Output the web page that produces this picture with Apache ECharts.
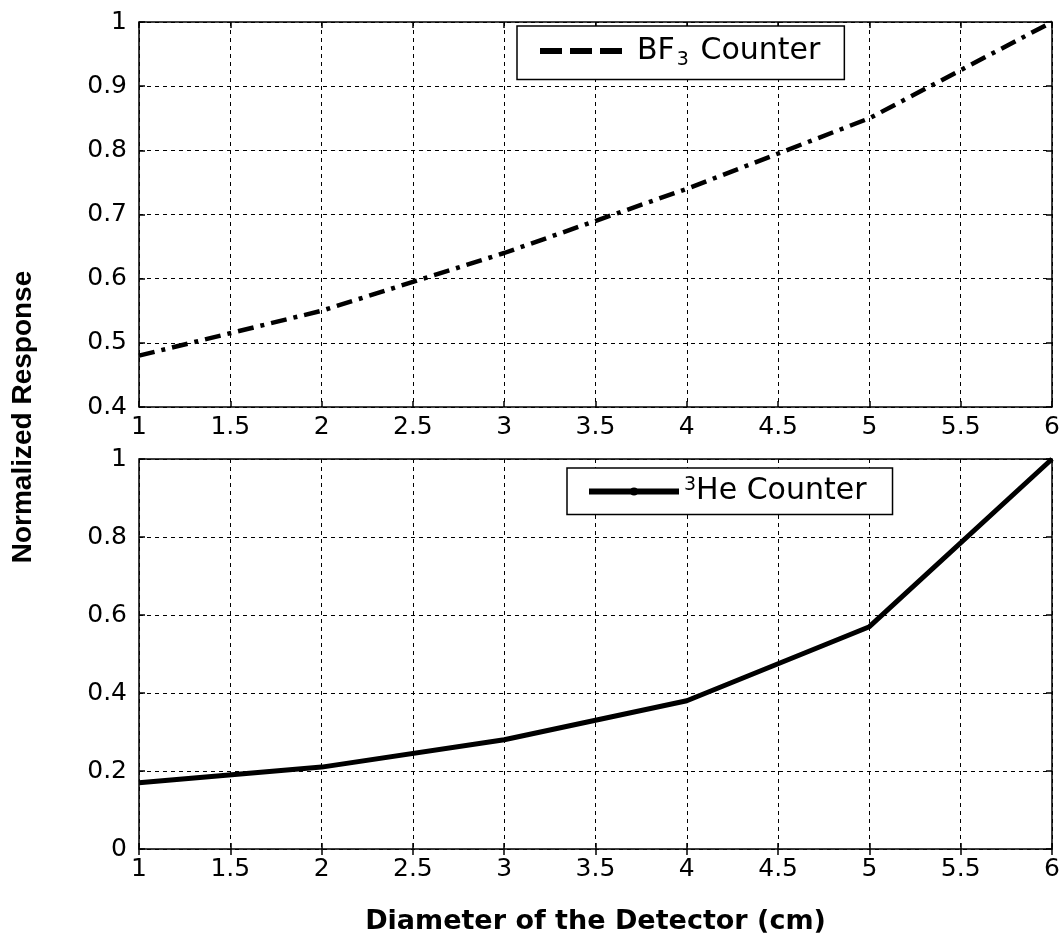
<!DOCTYPE html>
<html>
<head>
<meta charset="utf-8">
<script src="https://cdn.jsdelivr.net/npm/echarts@6/dist/echarts.min.js"></script>
<style>
  html, body { margin: 0; padding: 0; background: #fff; }
  #chart { width: 1063px; height: 936px; }
</style>
</head>
<body>
<div id="chart"></div>
<script>
// diameter (cm)
const diameters = [1, 2, 3, 4, 5, 6];
// normalized responses
const bf3Response = [0.48, 0.55, 0.64, 0.74, 0.85, 1.0];
const he3Response = [0.17, 0.21, 0.28, 0.38, 0.57, 1.0];
const seriesNames = ['BF3 Counter', '3He Counter'];

const chart = echarts.init(document.getElementById('chart'));
const tickFont = 'DejaVu Sans';

function pairs(ys) {
  return diameters.map((x, i) => [x, ys[i]]);
}

// main x axis (with labels) + a mirror on top for the inner ticks
function xAxes(gridIndex, withName) {
  const base = {
    type: 'value', gridIndex: gridIndex, min: 1, max: 6, interval: 0.5,
    axisLine: { show: false },
    axisTick: { show: true, inside: true, length: 6, lineStyle: { color: '#000', width: 1.5 } }
  };
  return [
    Object.assign({}, base, {
      position: 'bottom',
      axisLabel: { color: '#000', fontFamily: tickFont, fontSize: 25, margin: 8 },
      splitLine: { show: true, lineStyle: { color: '#000', type: [4, 4], width: 1 } },
      name: withName ? 'Diameter of the Detector (cm)' : '',
      nameLocation: 'middle',
      nameGap: 59,
      nameTextStyle: { color: '#000', fontFamily: 'DejaVu Sans', fontWeight: 'bold', fontSize: 27 }
    }),
    Object.assign({}, base, {
      position: 'top',
      axisLabel: { show: false },
      splitLine: { show: false }
    })
  ];
}

function yAxes(gridIndex, min, max, interval) {
  const base = {
    type: 'value', gridIndex: gridIndex, min: min, max: max, interval: interval,
    axisLine: { show: false },
    axisTick: { show: true, inside: true, length: 6, lineStyle: { color: '#000', width: 1.5 } }
  };
  return [
    Object.assign({}, base, {
      position: 'left',
      axisLabel: { color: '#000', fontFamily: tickFont, fontSize: 25, margin: 12 },
      splitLine: { show: true, lineStyle: { color: '#000', type: [4, 4], width: 1 } }
    }),
    Object.assign({}, base, {
      position: 'right',
      axisLabel: { show: false },
      splitLine: { show: false }
    })
  ];
}

const legendRich = {
  g: { width: 10 },
  t: { fontFamily: tickFont, fontSize: 30, color: '#000', lineHeight: 36 },
  sub: { fontFamily: tickFont, fontSize: 19, color: '#000', padding: [18, 2, 0, 2] },
  sup: { fontFamily: tickFont, fontSize: 19, color: '#000', padding: [0, 0, 12, 0] }
};

function legendBox(name, left, top, iconType, iconWidth, pad, dot) {
  return {
    data: [{
      name: name,
      lineStyle: { type: iconType, width: 6 },
      itemStyle: { color: '#000', opacity: dot ? 1 : 0 }
    }],
    left: left, top: top,
    orient: 'horizontal',
    backgroundColor: '#fff',
    borderColor: '#000',
    borderWidth: 1.5,
    padding: pad,
    itemWidth: iconWidth, itemHeight: 10,
    selectedMode: false,
    textStyle: { rich: legendRich },
    formatter: function (n) {
      if (n === 'BF3 Counter') return '{g|}{t|BF}{sub|3}{t| Counter}';
      return '{sup|3}{t|He Counter}';
    }
  };
}

const option = {
  backgroundColor: '#fff',
  animation: false,
  grid: [
    { left: 139, top: 22, width: 913, height: 385, show: true, borderColor: '#000', borderWidth: 1.5 },
    { left: 139, top: 459, width: 913, height: 390, show: true, borderColor: '#000', borderWidth: 1.5 }
  ],
  xAxis: xAxes(0, false).concat(xAxes(1, true)),
  yAxis: yAxes(0, 0.4, 1, 0.1).concat(yAxes(1, 0, 1, 0.2)),
  legend: [
    legendBox(seriesNames[0], 517, 26, [22, 8], 82, [10, 24, 10, 20], false),
    legendBox(seriesNames[1], 567, 468, 'solid', 90, [8, 26, 8, 19], true)
  ],
  graphic: [{
    type: 'text',
    x: 23, y: 417,
    rotation: Math.PI / 2,
    style: {
      text: 'Normalized Response',
      fill: '#000',
      font: 'bold 28px "Liberation Sans"',
      align: 'center',
      verticalAlign: 'middle'
    }
  }],
  series: [
    {
      name: seriesNames[0], type: 'line', xAxisIndex: 0, yAxisIndex: 0,
      data: pairs(bf3Response), symbol: 'none',
      itemStyle: { color: '#000' },
      lineStyle: { color: '#000', width: 4.5, type: [16, 7, 4, 7] }
    },
    {
      name: seriesNames[1], type: 'line', xAxisIndex: 2, yAxisIndex: 2,
      data: pairs(he3Response), symbol: 'none',
      itemStyle: { color: '#000' },
      lineStyle: { color: '#000', width: 5, type: 'solid' }
    }
  ]
};

chart.setOption(option);
window.addEventListener('resize', () => chart.resize());
</script>
</body>
</html>
